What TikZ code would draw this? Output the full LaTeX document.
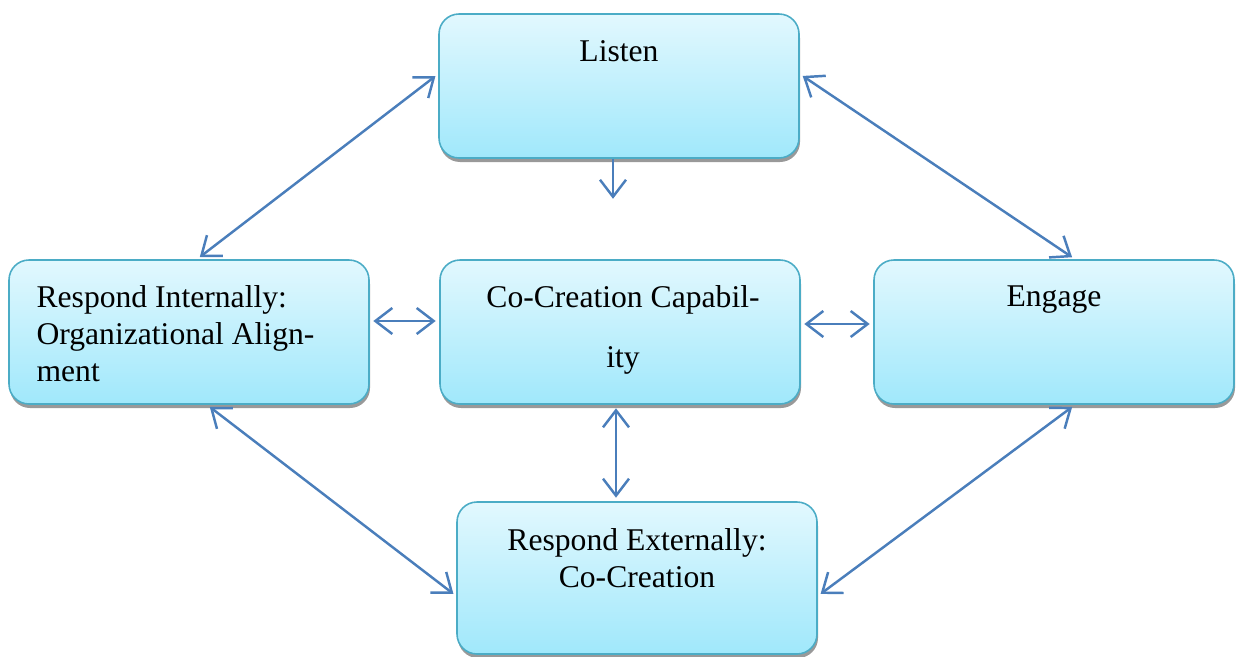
\documentclass[tikz,border=0pt]{standalone}
\usepackage{fontspec}
\setmainfont{Liberation Serif}
\usepackage{tikz}
\usetikzlibrary{positioning, shadows, arrows.meta}
\definecolor{bordo}{RGB}{75,172,198}
\definecolor{cielo}{RGB}{226,248,254}
\definecolor{cielobasso}{RGB}{160,232,251}
\definecolor{blufreccia}{RGB}{74,126,187}

\tikzset{
  box/.style={draw=bordo, line width=0.9pt, rounded corners=0.4cm,
    top color=cielo, bottom color=cielobasso,
    minimum width=7.2cm, minimum height=2.88cm,
    drop shadow={shadow xshift=0.02cm, shadow yshift=-0.08cm, fill=black!50, opacity=0.8}},
  testo/.style={inner sep=0pt, font=\fontsize{18}{21}\selectfont},
  doppia/.style={draw=blufreccia, line width=1.4pt,
    {Straight Barb[length=0.34cm,width=0.52cm]}-{Straight Barb[length=0.34cm,width=0.52cm]},
    shorten <=2pt, shorten >=2pt},
  singola/.style={draw=blufreccia, line width=1.4pt,
    -{Straight Barb[length=0.34cm,width=0.52cm]}}
}

\begin{document}
\begin{tikzpicture}
    \useasboundingbox (0,0) rectangle (24.82,13.12);

    % Riquadri
    \foreach \nome/\x/\y in {listen/12.38/11.40,
                             internal/3.78/6.48,
                             cocre/12.40/6.48,
                             engage/21.08/6.48}
        \node[box] (\nome) at (\x,\y) {};
    \node[box, minimum height=3.04cm] (external) at (12.74,1.56) {};

    % Testi
    \node[testo, anchor=north] (listenTxt) at ([yshift=-0.53cm]listen.north) {Listen};
    \node[testo, anchor=north west, align=left] (internalTxt) at ([xshift=0.56cm,yshift=-0.52cm]internal.north west)
        {Respond Internally:\\Organizational Align-\\ment};
    \node[testo, anchor=north, align=center] (cocreTxt) at ([xshift=0.06cm,yshift=-0.52cm]cocre.north)
        {Co-Creation Capabil-\\[13pt]ity};
    \node[testo, anchor=north] (engageTxt) at ([yshift=-0.53cm]engage.north) {Engage};
    \node[testo, anchor=north, align=center] (externalTxt) at ([yshift=-0.54cm]external.north)
        {Respond Externally:\\Co-Creation};

    % Frecce
    \coordinate (listenTip) at ([xshift=-0.12cm,yshift=-0.8cm]listen.south);
    \draw[singola] ([xshift=-0.12cm]listen.south) -- (listenTip);
    \draw[doppia] ([yshift=0.24cm]listen.west) -- ([xshift=0.16cm]internal.north);
    \draw[doppia] ([yshift=0.24cm]listen.east) -- ([xshift=0.42cm]engage.north);
    \draw[doppia] ([yshift=0.22cm]internal.east) -- ([yshift=0.22cm]cocre.west);
    \draw[doppia] ([yshift=0.16cm]cocre.east) -- ([yshift=0.16cm]engage.west);
    \draw[doppia] ([xshift=-0.08cm]cocre.south) -- ([xshift=-0.08cm]cocre.south |- external.north);
    \draw[doppia] ([xshift=0.36cm]internal.south) -- ([yshift=-0.36cm]external.west);
    \draw[doppia] ([xshift=0.42cm]engage.south) -- ([yshift=-0.36cm]external.east);

\end{tikzpicture}
\end{document}
